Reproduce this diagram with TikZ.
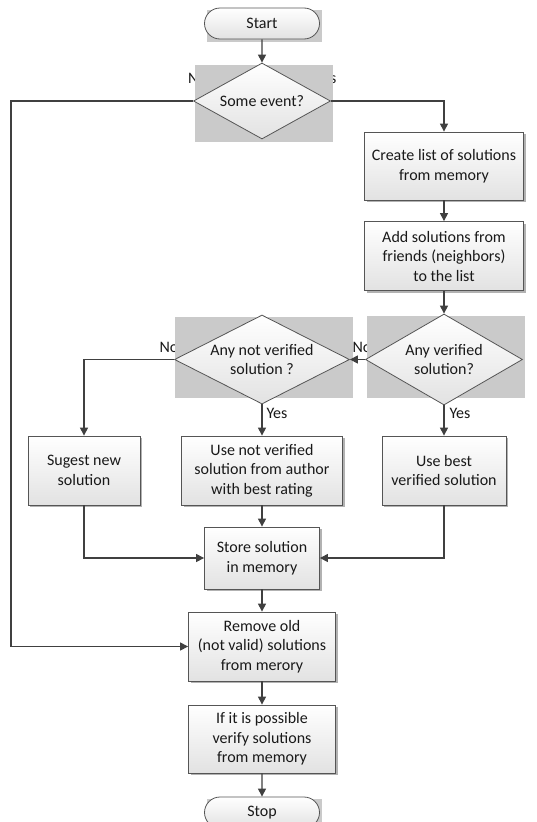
\documentclass[tikz,border=0pt]{standalone}
\usepackage{fontspec}
\setmainfont{Carlito}
\usetikzlibrary{shapes.geometric,shapes.misc,arrows.meta,shadows}
\definecolor{ln}{HTML}{404040}
\definecolor{bd}{HTML}{555555}
\definecolor{wm}{HTML}{CACACA}
\definecolor{bt}{HTML}{E2E2E2}
\tikzset{
 every node/.style={font=\fontsize{16}{19.5}\selectfont, text=black!90},
 box/.style={rectangle, draw=bd, line width=0.8pt, top color=white, bottom color=bt, align=center, inner sep=0pt,
   drop shadow={shadow xshift=2pt, shadow yshift=-2pt, fill=black!50, opacity=0.6}},
 dia/.style={diamond, draw=bd, line width=0.8pt, top color=white, bottom color=bt, inner sep=0pt},
 term/.style={rounded rectangle, draw=bd, line width=0.8pt, top color=white, bottom color=bt, inner sep=0pt,
   minimum width=115pt, minimum height=31pt},
 arr/.style={draw=ln, line width=1.1pt, -{Triangle[length=8pt,width=8pt]}},
 txt/.style={align=center, inner sep=0pt},
 lbl/.style={inner sep=0pt},
 wmbox/.style={fill=wm, draw=none},
}
\begin{document}
\begin{tikzpicture}[x=1pt,y=-1pt]
\path[use as bounding box, clip] (0,0) rectangle (537,822);
\fill[white] (0,0) rectangle (537,822);
% branch labels
\node[lbl] (nE) at (197.5,78) {No};
\node[lbl] (yE) at (326,78) {Yes};
\node[lbl] (n1) at (169,347) {No};
\node[lbl] (n2) at (362,347) {No};
\node[lbl] (y1) at (277,413) {Yes};
\node[lbl] (y2) at (460,413) {Yes};
% grey blocks
\fill[wmbox] (195,65) rectangle (333,142);
\fill[wmbox] (175,317) rectangle (353,398);
\fill[wmbox] (367,316) rectangle (525,398);
\fill[wmbox] (207,10) rectangle (322,42);
\fill[wmbox] (207,799) rectangle (322,830);
% nodes
\node[term] (start) at (262,23.5) {Start};
\node[dia, minimum width=137pt, minimum height=76pt] (ev) at (262,101) {};
\node[txt] (evt) at (ev) {Some event?};
\node[box, minimum width=159pt, minimum height=68pt] (cr) at (444,166) {Create list of solutions\\from memory};
\node[box, minimum width=159pt, minimum height=69pt] (add) at (444,256) {Add solutions from\\friends (neighbors)\\to the list};
\node[dia, minimum width=157pt, minimum height=91pt] (q2) at (444,359.5) {};
\node[txt] (q2t) at (q2) {Any verified\\solution?};
\node[dia, minimum width=175pt, minimum height=89pt] (q1) at (262,359.5) {};
\node[txt] (q1t) at (q1) {Any not verified\\solution ?};
\node[box, minimum width=112pt, minimum height=69pt] (sg) at (84,470.5) {Sugest new\\solution};
\node[box, minimum width=161pt, minimum height=69pt] (un) at (262,470.5) {Use not verified\\solution from author\\with best rating};
\node[box, minimum width=124pt, minimum height=69pt] (ub) at (444,470.5) {Use best\\verified solution};
\node[box, minimum width=115pt, minimum height=62pt] (st) at (262,558) {Store solution\\in memory};
\node[box, minimum width=147pt, minimum height=69pt] (rm) at (262,646.5) {Remove old\\(not valid) solutions\\from merory};
\node[box, minimum width=147pt, minimum height=68pt] (vf) at (262,739) {If it is possible\\verify solutions\\from memory};
\node[term] (stop) at (262,812.5) {Stop};
% connectors
\coordinate (L) at (11,101);
\draw[arr] (start) -- (ev);
\draw[arr] (ev.west) -- (L) |- (rm.west);
\draw[arr] (ev.east) -| (cr.north);
\draw[arr] (cr) -- (add);
\draw[arr] (add) -- (q2);
\draw[arr] (q2.west) -- (q1.east);
\draw[arr] (q1.west) -| (sg.north);
\draw[arr] (q1.south) -- (un.north);
\draw[arr] (q2.south) -- (ub.north);
\draw[arr] (un) -- (st);
\draw[arr] (sg.south) |- (st.west);
\draw[arr] (ub.south) |- (st.east);
\draw[arr] (st) -- (rm);
\draw[arr] (rm) -- (vf);
\draw[arr] (vf) -- (stop);
\end{tikzpicture}
\end{document}
